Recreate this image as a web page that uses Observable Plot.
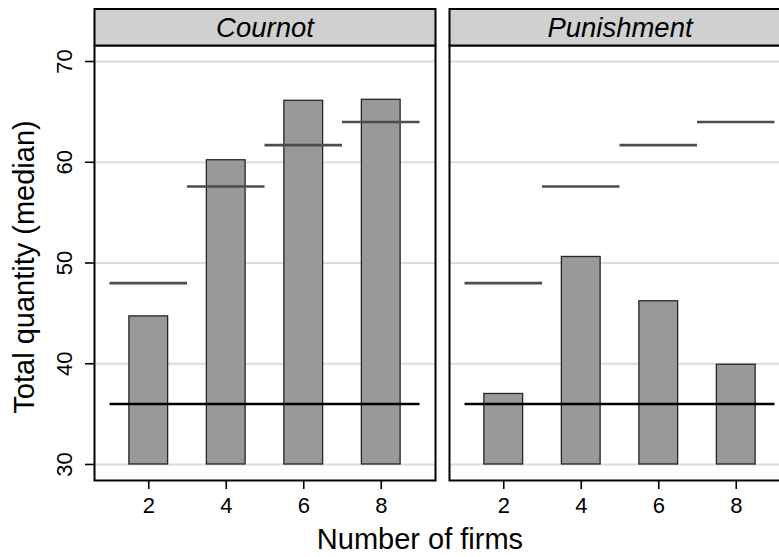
<!DOCTYPE html>
<html>
<head>
<meta charset="utf-8">
<script src="https://cdn.jsdelivr.net/npm/d3@7"></script>
<script src="https://cdn.jsdelivr.net/npm/@observablehq/plot@0.6"></script>
<style>
  html, body { margin: 0; padding: 0; background: #fff; }
  #wrap { width: 779px; height: 557px; overflow: hidden; position: relative; }
  #wrap svg { max-width: none !important; }
</style>
</head>
<body>
<div id="wrap"></div>
<script>
// ---- data ----
const treatments = ["Cournot", "Punishment"];
const firms = [2, 4, 6, 8];
const cournotMedian = [44.7, 60.2, 66.1, 66.2];
const punishmentMedian = [37.0, 50.6, 46.2, 39.9];
const cournotEquilibrium = [48, 57.6, 61.7, 64];
const collusiveQuantity = [36];
const collusiveSpan = [1, 9];
const yTicks = [30, 40, 50, 60, 70];
const xTicks = [2, 4, 6, 8];
const barBase = 30;
const xTitle = "Number of firms";
const yTitle = "Total quantity (median)";

const bars = [];
firms.forEach((n, i) => bars.push({type: treatments[0], n, q: cournotMedian[i]}));
firms.forEach((n, i) => bars.push({type: treatments[1], n, q: punishmentMedian[i]}));
const eq = firms.map((n, i) => ({n, q: cournotEquilibrium[i]}));

const font = "'Liberation Sans', Arial, Helvetica, sans-serif";

const plot = Plot.plot({
  width: 790,
  height: 557,
  marginLeft: 94,
  marginRight: 0,
  marginTop: 45,
  marginBottom: 77,
  style: {fontFamily: font, fontSize: "22px", background: "white", color: "black", maxWidth: "none"},
  facet: {marginTop: 0, marginRight: 0, marginBottom: 0, marginLeft: 0},
  fx: {domain: treatments, axis: null, paddingInner: 14 / 355, paddingOuter: 0},
  x: {domain: [0.6, 9.4], axis: null},
  y: {domain: [28.41, 71.59], axis: null},
  marks: [
    Plot.gridY(yTicks, {stroke: "#dcdcdc", strokeOpacity: 1, strokeWidth: 2}),
    Plot.rect(bars, {
      fx: "type",
      x1: d => d.n - 0.5, x2: d => d.n + 0.5,
      y1: () => barBase, y2: "q",
      fill: "#999999", stroke: "#262626", strokeWidth: 1.3
    }),
    Plot.ruleY(eq, {y: "q", x1: d => d.n - 1, x2: d => d.n + 1, stroke: "#4d4d4d", strokeWidth: 2.6}),
    Plot.ruleY(collusiveQuantity, {x1: () => collusiveSpan[0], x2: () => collusiveSpan[1], stroke: "black", strokeWidth: 2.4}),
    Plot.frame({stroke: "black", strokeWidth: 2}),
    Plot.axisY(yTicks, {tickSize: 9, tickRotate: -90, tickPadding: 14, fontSize: 22, label: null, strokeWidth: 1.6}),
    Plot.axisX(xTicks, {tickSize: 9, tickPadding: 7.5, fontSize: 22, label: null, strokeWidth: 1.6})
  ]
});
plot.style.maxWidth = "none";

document.getElementById("wrap").appendChild(plot);

// strips and axis titles placed from the rendered facet frames
const svg = d3.select(plot);
const svgBox = plot.getBoundingClientRect();
const frameEls = Array.from(new Set([
  ...plot.querySelectorAll('rect[aria-label="frame"]'),
  ...plot.querySelectorAll('[aria-label="frame"] rect')
]));
const boxes = frameEls.map(el => {
  const b = el.getBoundingClientRect();
  return {x: b.left - svgBox.left, y: b.top - svgBox.top, w: b.width, h: b.height};
}).sort((a, b) => a.x - b.x);

const stripTop = 9;
boxes.forEach((b, i) => {
  svg.append("rect")
    .attr("x", b.x).attr("y", stripTop)
    .attr("width", b.w).attr("height", b.y - stripTop)
    .attr("fill", "#d0d0d0").attr("stroke", "black").attr("stroke-width", 2);
  svg.append("text")
    .attr("x", b.x + b.w / 2).attr("y", b.y - 9)
    .attr("text-anchor", "middle")
    .attr("font-family", font).attr("font-style", "italic").attr("font-size", 27.5)
    .attr("fill", "black")
    .text(treatments[i]);
});

svg.append("text")
  .attr("x", 420).attr("y", 549)
  .attr("text-anchor", "middle")
  .attr("font-family", font).attr("font-size", 29).attr("fill", "black")
  .text(xTitle);

svg.append("text")
  .attr("transform", "translate(34,267) rotate(-90)")
  .attr("text-anchor", "middle")
  .attr("font-family", font).attr("font-size", 29).attr("fill", "black")
  .text(yTitle);
</script>
</body>
</html>
